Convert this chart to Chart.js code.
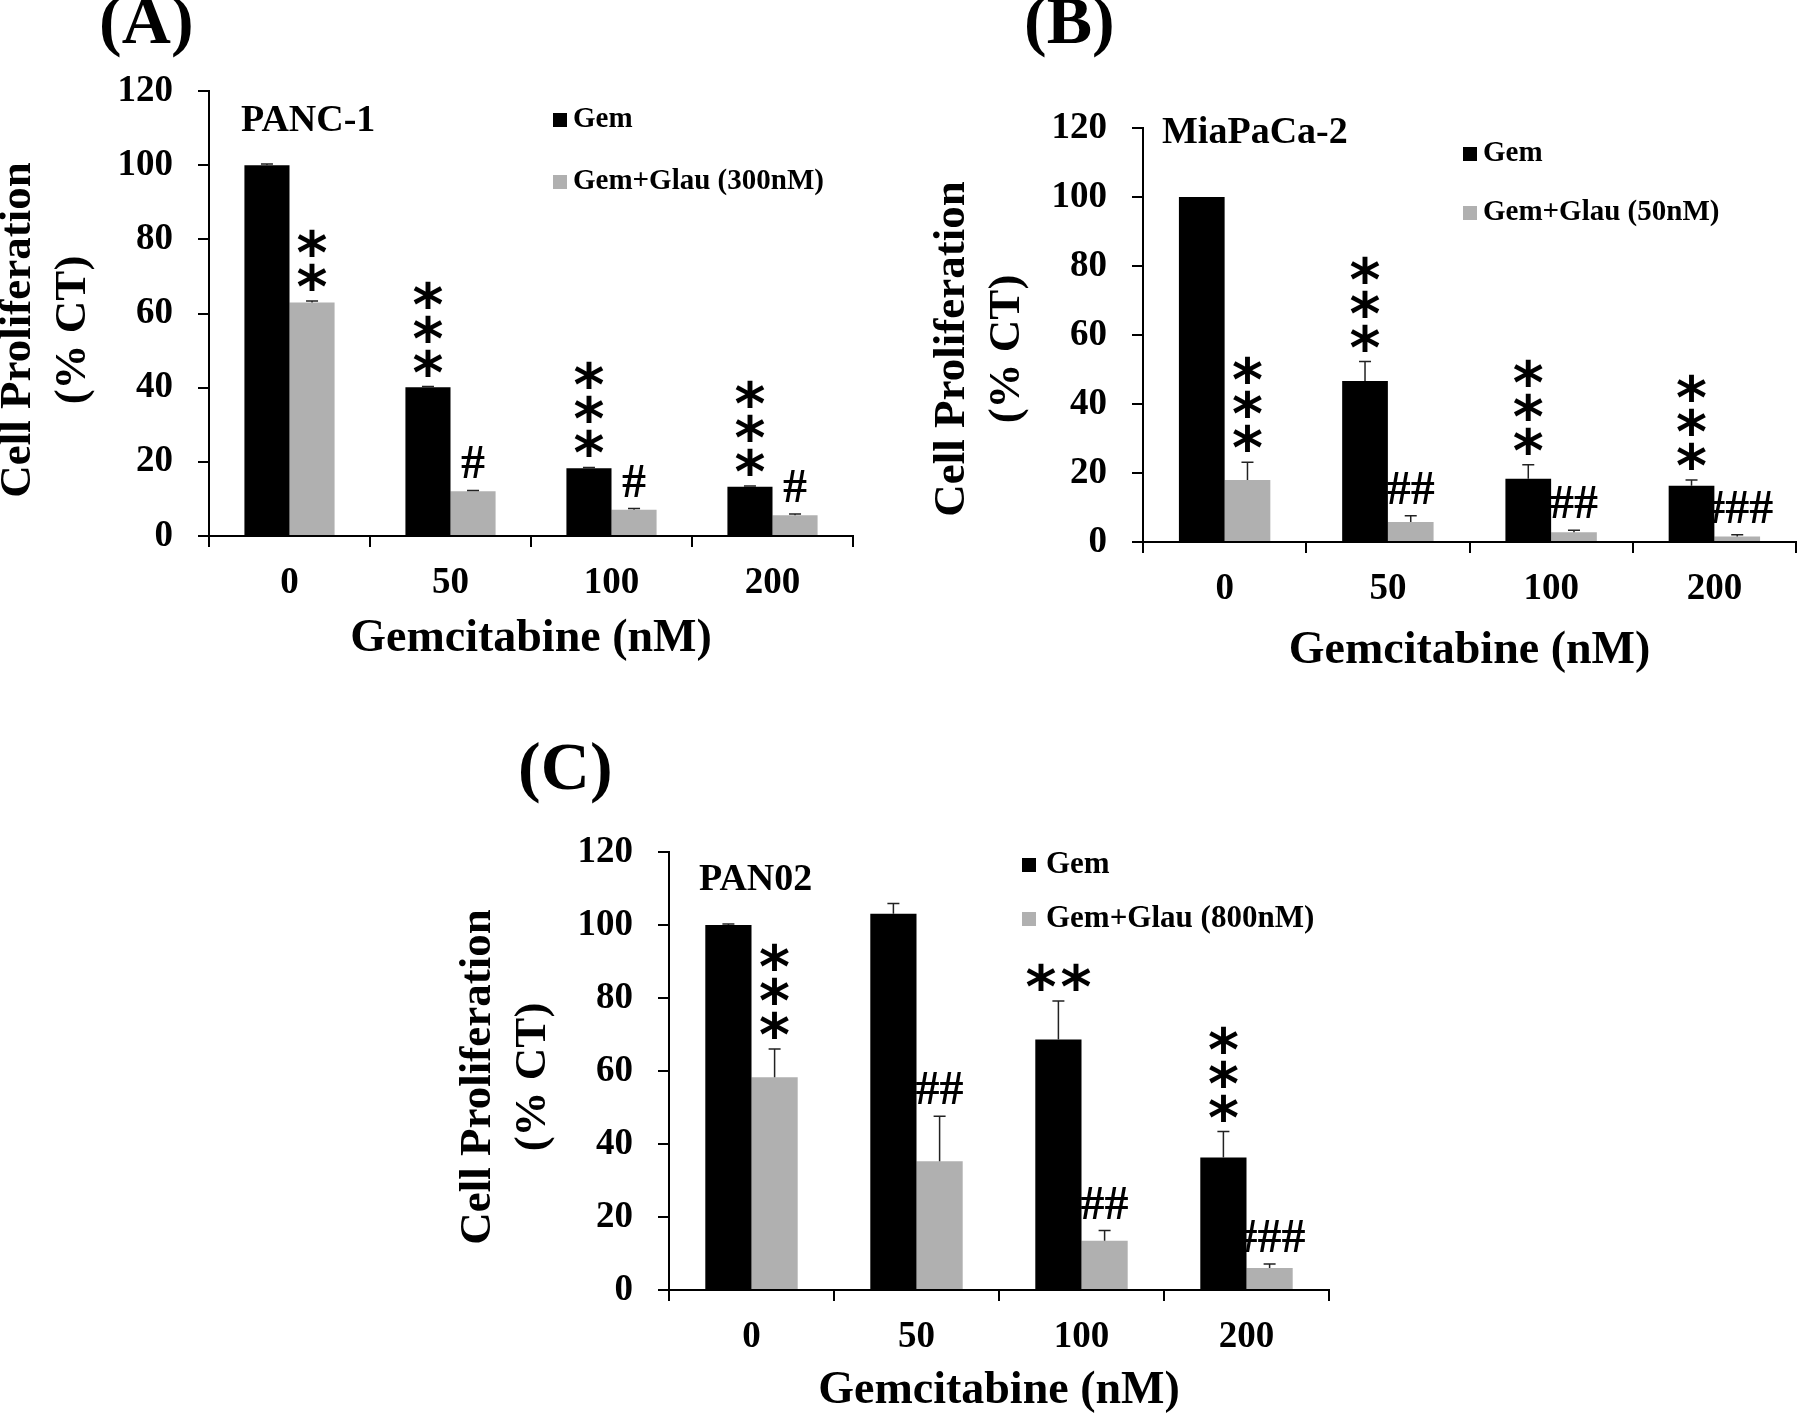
<!DOCTYPE html>
<html lang="en">
<head>
<meta charset="UTF-8">
<title>Cell proliferation - Gemcitabine +/- Glau</title>
<script src="https://cdn.jsdelivr.net/npm/chart.js"></script>
<style>
    html, body { margin: 0; padding: 0; background: #fff; }
    body { width: 1800px; height: 1417px; position: relative; overflow: hidden; }
    canvas { position: absolute; }
</style>
</head>
<body>
<canvas id="graficoA"></canvas>
<canvas id="graficoB"></canvas>
<canvas id="graficoC"></canvas>

<script>
    const serif = "'Liberation Serif', 'Times New Roman', serif";

    // categorias (eixo x) e eixo y
    const doses = ['0', '50', '100', '200'];
    const yMin = 0;
    const yMax = 120;
    const yStep = 20;
    const yTitulo = ['Cell Proliferation', '(% CT)'];
    const xTitulo = 'Gemcitabine (nM)';

    // (A) PANC-1
    const panc1Legend = ['Gem', 'Gem+Glau (300nM)'];
    const panc1Gem = [100, 40.1, 18.3, 13.3];
    const panc1GemErr = [0.3, 0.2, 0.2, 0.2];
    const panc1Glau = [63, 12.1, 7.1, 5.6];
    const panc1GlauErr = [0.4, 0.2, 0.3, 0.3];
    const panc1GemSig = ['', '*\n*\n*', '*\n*\n*', '*\n*\n*'];
    const panc1GlauSig = ['*\n*', '#', '#', '#'];

    // (B) MiaPaCa-2
    const miaLegend = ['Gem', 'Gem+Glau (50nM)'];
    const miaGem = [100, 46.7, 18.3, 16.3];
    const miaGemErr = [0, 5.6, 4.1, 1.7];
    const miaGlau = [18, 5.8, 2.8, 1.6];
    const miaGlauErr = [5.1, 1.8, 0.6, 0.5];
    const miaGemSig = ['', '*\n*\n*', '*\n*\n*', '*\n*\n*'];
    const miaGlauSig = ['*\n*\n*', '##', '##', '###'];

    // (C) PAN02
    const pan02Legend = ['Gem', 'Gem+Glau (800nM)'];
    const pan02Gem = [100, 103.1, 68.6, 36.3];
    const pan02GemErr = [0.3, 2.8, 10.6, 7.1];
    const pan02Glau = [58.3, 35.3, 13.5, 6.0];
    const pan02GlauErr = [7.7, 12.3, 2.8, 1.1];
    const pan02GemSig = ['', '', '**', '*\n*\n*'];
    const pan02GlauSig = ['*\n*\n*', '##', '##', '###'];

    // posicao de cada painel na pagina (px)
    const layoutA = {
        tag: '(A)', cell: 'PANC-1',
        box: { x: -10, y: 0, w: 900, h: 700 },
        area: { l: 209, t: 91, r: 853, b: 536 },
        xTitleY: 639,
        yTitleY: 330,
        tagPos: { x: 146, y: 26 },
        cellPos: { x: 241, y: 121 },
        legend: { x: 553, y: [120, 182], size: 29, gap: 6 }
    };
    const layoutB = {
        tag: '(B)', cell: 'MiaPaCa-2',
        box: { x: 925, y: 0, w: 875, h: 720 },
        area: { l: 1143, t: 128, r: 1796, b: 542 },
        xTitleY: 651,
        yTitleY: 349,
        tagPos: { x: 1069, y: 26 },
        cellPos: { x: 1162, y: 133 },
        legend: { x: 1463, y: [154, 213], size: 29, gap: 6 }
    };
    const layoutC = {
        tag: '(C)', cell: 'PAN02',
        box: { x: 450, y: 730, w: 900, h: 720 },
        area: { l: 669, t: 852, r: 1329, b: 1290 },
        xTitleY: 1391,
        yTitleY: 1077,
        tagPos: { x: 565, y: 772 },
        cellPos: { x: 699, y: 880 },
        legend: { x: 1022, y: [865, 919], size: 31, gap: 10 }
    };

    const corGem = '#000000';
    const corGlau = '#b0b0b0';

    Chart.defaults.color = '#000';
    Chart.defaults.font.family = serif;

    // desenha texto centrado pela caixa real do glifo
    function textoCentrado(ctx, txt, cx, cy) {
        ctx.textAlign = 'left';
        ctx.textBaseline = 'alphabetic';
        const m = ctx.measureText(txt);
        const x = cx - (m.actualBoundingBoxRight - m.actualBoundingBoxLeft) / 2;
        const y = cy + (m.actualBoundingBoxAscent - m.actualBoundingBoxDescent) / 2;
        ctx.fillText(txt, x, y);
    }

    function fonteAsterisco(ctx) {
        ctx.font = "bold 100px 'DejaVu Sans'";
        const m = ctx.measureText('*');
        const w = m.actualBoundingBoxLeft + m.actualBoundingBoxRight;
        return "bold " + (100 * 29 / w).toFixed(1) + "px 'DejaVu Sans'";
    }

    function desenharSig(ctx, sig, cx, yTopo) {
        const linhas = sig.split('\n').reverse();
        const starFont = fonteAsterisco(ctx);
        linhas.forEach((linha, k) => {
            if (linha[0] === '*') {
                const cy = yTopo - 24 - k * 34;
                ctx.font = starFont;
                const n = linha.length;
                for (let j = 0; j < n; j++) {
                    textoCentrado(ctx, '*', cx + (j - (n - 1) / 2) * 35, cy);
                }
            } else {
                ctx.font = 'bold 48px ' + serif;
                textoCentrado(ctx, linha, cx, yTopo - 28);
            }
        });
    }

    function decoracao(lay) {
        return {
            id: 'decoracao' + lay.tag,
            afterDatasetsDraw(chart) {
                const ctx = chart.ctx;
                const ox = lay.box.x;
                const oy = lay.box.y;
                const yScale = chart.scales.y;
                ctx.save();
                ctx.fillStyle = '#000';

                // barras de erro e marcas de significancia
                chart.data.datasets.forEach((ds, di) => {
                    const meta = chart.getDatasetMeta(di);
                    meta.data.forEach((bar, i) => {
                        const err = ds.erros[i];
                        const yTopo = yScale.getPixelForValue(ds.data[i] + err);
                        if (err > 0) {
                            ctx.strokeStyle = '#222';
                            ctx.lineWidth = 1.5;
                            ctx.beginPath();
                            ctx.moveTo(bar.x, bar.y);
                            ctx.lineTo(bar.x, yTopo);
                            ctx.moveTo(bar.x - 6, yTopo);
                            ctx.lineTo(bar.x + 6, yTopo);
                            ctx.stroke();
                        }
                        if (ds.sig[i]) {
                            ctx.fillStyle = '#000';
                            desenharSig(ctx, ds.sig[i], bar.x, yTopo);
                        }
                    });
                });

                // legenda
                const lg = lay.legend;
                chart.data.datasets.forEach((ds, di) => {
                    const y = lg.y[di] - oy;
                    ctx.fillStyle = ds.backgroundColor;
                    ctx.fillRect(lg.x - ox, y - 7, 14, 14);
                    ctx.fillStyle = '#000';
                    ctx.font = 'bold ' + lg.size + 'px ' + serif;
                    ctx.textAlign = 'left';
                    ctx.textBaseline = 'middle';
                    ctx.fillText(ds.label, lg.x - ox + 14 + lg.gap, y);
                });

                // linhagem celular
                ctx.font = 'bold 38px ' + serif;
                ctx.textAlign = 'left';
                ctx.textBaseline = 'middle';
                ctx.fillText(lay.cell, lay.cellPos.x - ox, lay.cellPos.y - oy);

                // titulo do eixo y (duas linhas, rodado)
                ctx.save();
                ctx.translate(lay.area.l - 191 - ox, lay.yTitleY - oy);
                ctx.rotate(-Math.PI / 2);
                ctx.font = 'bold 45px ' + serif;
                ctx.textAlign = 'center';
                ctx.textBaseline = 'middle';
                yTitulo.forEach((t, k) => ctx.fillText(t, 0, k * 55));
                ctx.restore();

                // letra do painel
                ctx.font = 'bold 68px ' + serif;
                textoCentrado(ctx, lay.tag, lay.tagPos.x - ox, lay.tagPos.y - oy);

                ctx.restore();
            }
        };
    }

    function plotarPainel(idCanvas, lay, nomes, gem, gemErr, glau, glauErr, gemSig, glauSig) {
        const cv = document.getElementById(idCanvas);
        cv.width = lay.box.w;
        cv.height = lay.box.h;
        cv.style.left = lay.box.x + 'px';
        cv.style.top = lay.box.y + 'px';

        const boxBottom = lay.box.y + lay.box.h;

        const config = {
            type: 'bar',
            data: {
                labels: doses,
                datasets: [
                    { label: nomes[0], data: gem, erros: gemErr, sig: gemSig, backgroundColor: corGem, borderWidth: 0 },
                    { label: nomes[1], data: glau, erros: glauErr, sig: glauSig, backgroundColor: corGlau, borderWidth: 0 }
                ]
            },
            options: {
                responsive: false,
                animation: false,
                events: [],
                categoryPercentage: 0.56,
                barPercentage: 1.0,
                layout: {
                    padding: {
                        left: 0,
                        top: lay.area.t - lay.box.y,
                        right: lay.box.x + lay.box.w - lay.area.r,
                        bottom: 0
                    }
                },
                plugins: {
                    legend: { display: false },
                    tooltip: { enabled: false }
                },
                scales: {
                    x: {
                        offset: true,
                        grid: {
                            display: true, offset: true, drawOnChartArea: false,
                            drawTicks: true, tickLength: 11, color: '#000', lineWidth: 2
                        },
                        border: { display: true, color: '#000', width: 2 },
                        ticks: {
                            color: '#000', padding: 14, maxRotation: 0, autoSkip: false,
                            font: { family: serif, size: 37, weight: 'bold', lineHeight: 1.2 }
                        },
                        title: {
                            display: true, text: xTitulo, color: '#000',
                            font: { family: serif, size: 46, weight: 'bold', lineHeight: 1.2 },
                            padding: { top: 0, bottom: boxBottom - lay.xTitleY - 27.6 }
                        },
                        afterFit: (s) => { s.height = boxBottom - lay.area.b; }
                    },
                    y: {
                        min: yMin,
                        max: yMax,
                        grid: {
                            display: true, drawOnChartArea: false,
                            drawTicks: true, tickLength: 11, color: '#000', lineWidth: 2
                        },
                        border: { display: true, color: '#000', width: 2 },
                        ticks: {
                            stepSize: yStep, color: '#000', padding: 25,
                            font: { family: serif, size: 37, weight: 'bold', lineHeight: 1.2 }
                        },
                        title: { display: false },
                        afterFit: (s) => { s.width = lay.area.l - lay.box.x; }
                    }
                }
            },
            plugins: [decoracao(lay)]
        };

        return new Chart(cv.getContext('2d'), config);
    }

    plotarPainel('graficoA', layoutA, panc1Legend, panc1Gem, panc1GemErr, panc1Glau, panc1GlauErr, panc1GemSig, panc1GlauSig);
    plotarPainel('graficoB', layoutB, miaLegend, miaGem, miaGemErr, miaGlau, miaGlauErr, miaGemSig, miaGlauSig);
    plotarPainel('graficoC', layoutC, pan02Legend, pan02Gem, pan02GemErr, pan02Glau, pan02GlauErr, pan02GemSig, pan02GlauSig);
</script>
</body>
</html>
